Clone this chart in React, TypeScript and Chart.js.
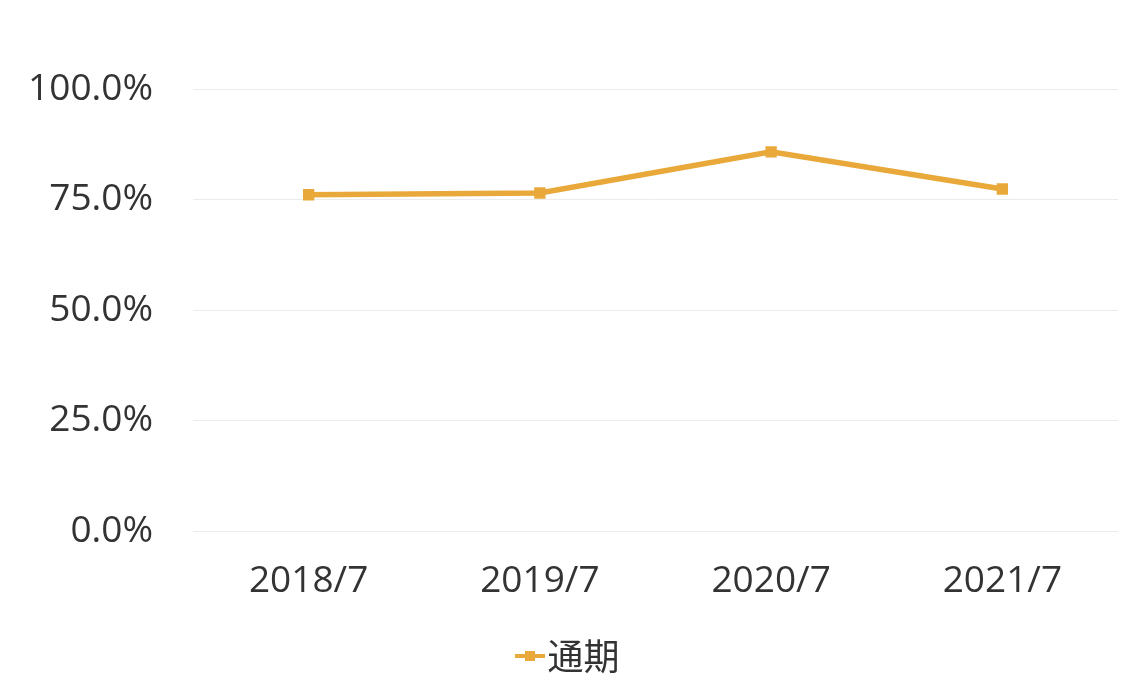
import { useEffect, useRef } from 'react';
import { Chart, registerables } from 'chart.js';

Chart.register(...registerables);

// values
const periods = ['2018/7', '2019/7', '2020/7', '2021/7'];
const fullYear = [76.1, 76.5, 85.8, 77.4];
const seriesName = '通期';

const ORANGE = '#E9A93A';

// line-with-square legend symbol; left part transparent so the text sits close to it
function legendSymbol() {
  const c = document.createElement('canvas');
  c.width = 62;
  c.height = 12;
  const g = c.getContext('2d');
  if (g) {
    g.fillStyle = ORANGE;
    g.fillRect(32, 4, 30, 4);
    g.fillRect(42, 1, 10, 10);
  }
  return c;
}

export default function App() {
  const chartRef = useRef<HTMLCanvasElement | null>(null);
  const chartInstance = useRef<Chart | null>(null);

  useEffect(() => {
    document.body.style.margin = '0';
    const ctx = chartRef.current?.getContext('2d');
    if (!ctx) return;

    if (chartInstance.current) {
      chartInstance.current.destroy();
    }

    const symbol = legendSymbol();

    chartInstance.current = new Chart(ctx, {
      type: 'line',
      data: {
        labels: periods,
        datasets: [
          {
            label: seriesName,
            data: fullYear,
            borderColor: ORANGE,
            backgroundColor: ORANGE,
            borderWidth: 5.5,
            pointStyle: 'rect',
            pointRadius: 8,
            pointBorderWidth: 0,
            tension: 0,
          },
        ],
      },
      options: {
        responsive: false,
        animation: false,
        layout: { padding: { top: 89, right: 16, left: 0, bottom: 15 } },
        plugins: {
          tooltip: { enabled: false },
          legend: {
            position: 'bottom',
            labels: {
              usePointStyle: true,
              pointStyleWidth: 31,
              color: '#333',
              padding: 14,
              font: { size: 36, family: '"Noto Sans CJK JP", sans-serif' },
              generateLabels: (chart) =>
                chart.data.datasets.map((ds, i) => ({
                  text: String(ds.label),
                  datasetIndex: i,
                  pointStyle: symbol,
                  fillStyle: ORANGE,
                  strokeStyle: ORANGE,
                  lineWidth: 0,
                  hidden: false,
                  fontColor: '#333',
                })),
            },
          },
        },
        scales: {
          x: {
            offset: true,
            grid: { display: false },
            border: { display: false },
            ticks: {
              color: '#333',
              padding: 20,
              font: { size: 37, family: '"Open Sans", sans-serif' },
            },
          },
          y: {
            min: 0,
            max: 100,
            afterFit: (scale) => {
              scale.width = 193;
            },
            grid: { color: '#ebebeb', lineWidth: 1, drawTicks: false },
            border: { display: false },
            ticks: {
              stepSize: 25,
              padding: 40,
              color: '#333',
              font: { size: 37, family: '"Open Sans", sans-serif' },
              callback: (v) => Number(v).toFixed(1) + '%',
            },
          },
        },
      },
    });

    return () => {
      chartInstance.current?.destroy();
      chartInstance.current = null;
    };
  }, []);

  return (
    <div style={{ position: 'absolute', left: 0, top: 0, width: 1134, height: 699, background: '#fff' }}>
      <canvas ref={chartRef} width={1134} height={699}></canvas>
    </div>
  );
}
